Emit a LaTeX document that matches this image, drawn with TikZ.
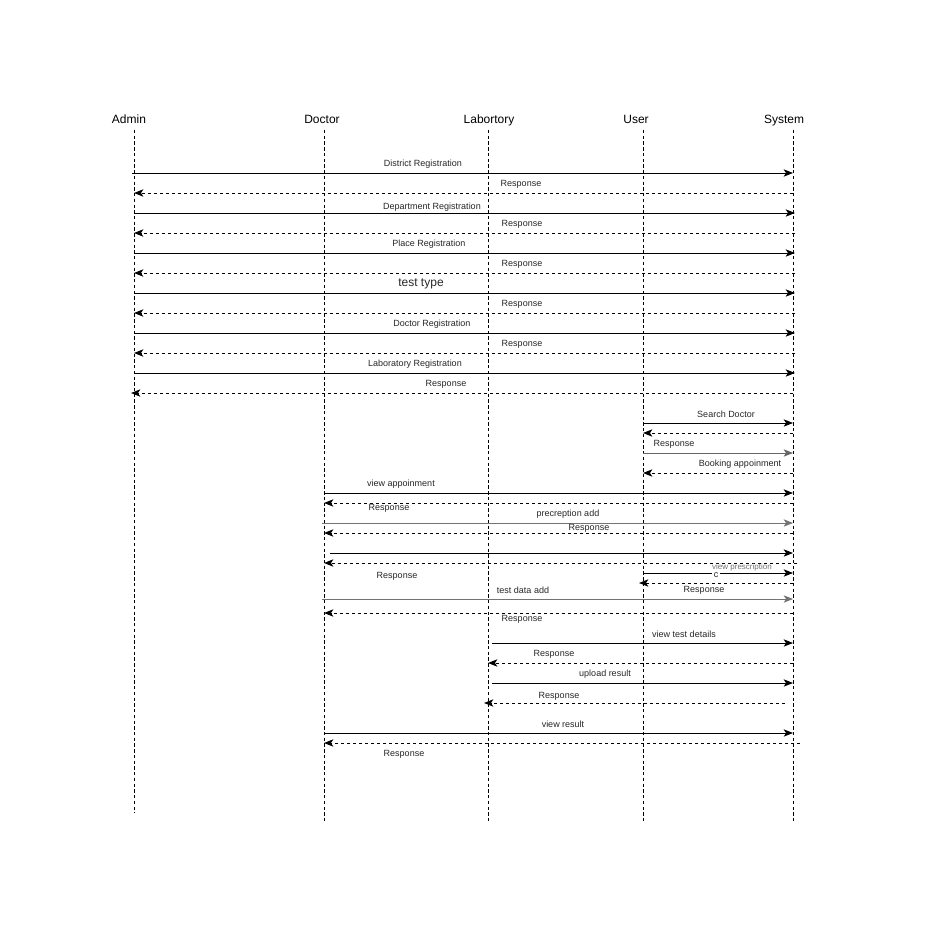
\documentclass[tikz,border=0pt]{standalone}
\usepackage{fontspec}
\setmainfont{Liberation Sans}
\usetikzlibrary{arrows.meta}
\begin{document}
\begin{tikzpicture}[x=0.75pt,y=-0.75pt]
        \tikzset{actor/.style = {font=\fontsize{9}{11}\selectfont,inner sep=0pt,anchor=base}}
        \tikzset{lifeline/.style = {dash pattern=on 2.5pt off 1.8pt,line width=0.6pt}}
        \tikzset{call/.style = {-{Stealth[length=7pt,width=5.5pt,inset=1.8pt]},line width=0.75pt}}
        \tikzset{reply/.style = {call,dash pattern=on 2.25pt off 2.25pt}}
        \tikzset{lbl/.style = {font=\fontsize{6.75}{8}\selectfont,inner sep=0pt,text=black!85,yshift=-1.2pt}}
        \useasboundingbox (0,0) rectangle (933,935);
        % actors and lifelines
        \node[actor] (admin) at  (129,123) {Admin};
        \node[actor] (doctor) at  (322,123) {Doctor};
        \node[actor] (lab) at  (489,123) {Labortory};
        \node[actor] (user) at  (636,123) {User};
        \node[actor] (system) at  (784,123) {System};
        \coordinate (admintop) at (134,130);
        \coordinate (adminend) at (134,813);
        \coordinate (doctortop) at (324,130);
        \coordinate (doctorend) at (324,823);
        \coordinate (labtop) at (488,130);
        \coordinate (labend) at (488,823);
        \coordinate (usertop) at (643,130);
        \coordinate (userend) at (643,823);
        \coordinate (systemtop) at (793,130);
        \coordinate (systemend) at (793,823);
        \draw[lifeline] (admintop) -- (adminend);
        \draw[lifeline] (doctortop) -- (doctorend);
        \draw[lifeline] (labtop) -- (labend);
        \draw[lifeline] (usertop) -- (userend);
        \draw[lifeline] (systemtop) -- (systemend);
        % admin registrations
        \coordinate (m1a) at (132,173); \coordinate (m1b) at (793,173);
        \coordinate (m2a) at (793,193); \coordinate (m2b) at (134,193);
        \coordinate (m3a) at (134,213); \coordinate (m3b) at (795,213);
        \coordinate (m4a) at (795,233); \coordinate (m4b) at (134,233);
        \coordinate (m5a) at (134,253); \coordinate (m5b) at (795,253);
        \coordinate (m6a) at (795,273); \coordinate (m6b) at (134,273);
        \coordinate (m7a) at (134,293); \coordinate (m7b) at (795,293);
        \coordinate (m8a) at (795,313); \coordinate (m8b) at (134,313);
        \coordinate (m9a) at (134,333); \coordinate (m9b) at (795,333);
        \coordinate (m10a) at (795,353); \coordinate (m10b) at (134,353);
        \coordinate (m11a) at (134,373); \coordinate (m11b) at (795,373);
        \coordinate (m12a) at (793,393); \coordinate (m12b) at (131,393);
        \draw[call] (m1a) -- (m1b);
        \draw[reply] (m2a) -- (m2b);
        \draw[call] (m3a) -- (m3b);
        \draw[reply] (m4a) -- (m4b);
        \draw[call] (m5a) -- (m5b);
        \draw[reply] (m6a) -- (m6b);
        \draw[call] (m7a) -- (m7b);
        \draw[reply] (m8a) -- (m8b);
        \draw[call] (m9a) -- (m9b);
        \draw[reply] (m10a) -- (m10b);
        \draw[call] (m11a) -- (m11b);
        \draw[reply] (m12a) -- (m12b);
        \node[lbl] (l1) at (423,163) {District Registration};
        \node[lbl] (l2) at (521,183) {Response};
        \node[lbl] (l3) at (432,206) {Department Registration};
        \node[lbl] (l4) at (522,223) {Response};
        \node[lbl] (l5) at (429,243) {Place Registration};
        \node[lbl] (l6) at (522,263) {Response};
        \node[lbl,font=\fontsize{9}{11}\selectfont] (l7) at (421,282) {test type};
        \node[lbl] (l8) at (522,303) {Response};
        \node[lbl] (l9) at (432,323) {Doctor Registration};
        \node[lbl] (l10) at (522,343) {Response};
        \node[lbl] (l11) at (415,363) {Laboratory Registration};
        \node[lbl] (l12) at (446,383) {Response};
        % user and doctor
        \coordinate (m13a) at (643,423); \coordinate (m13b) at (793,423);
        \coordinate (m14a) at (793,433); \coordinate (m14b) at (643,433);
        \coordinate (m15a) at (643,453); \coordinate (m15b) at (793,453);
        \coordinate (m16a) at (793,473); \coordinate (m16b) at (643,473);
        \coordinate (m17a) at (324,493); \coordinate (m17b) at (793,493);
        \coordinate (m18a) at (793,503); \coordinate (m18b) at (324,503);
        \coordinate (m19a) at (322,523); \coordinate (m19b) at (793,523);
        \coordinate (m20a) at (793,533); \coordinate (m20b) at (324,533);
        \coordinate (m21a) at (330,553); \coordinate (m21b) at (793,553);
        \coordinate (m22a) at (797,563); \coordinate (m22b) at (324,563);
        \coordinate (m23a) at (643,573); \coordinate (m23b) at (793,573);
        \coordinate (m24a) at (793,583); \coordinate (m24b) at (639,583);
        \coordinate (m25a) at (322,599); \coordinate (m25b) at (793,599);
        \coordinate (m26a) at (793,613); \coordinate (m26b) at (324,613);
        \draw[call] (m13a) -- (m13b);
        \draw[reply] (m14a) -- (m14b);
        \draw[call,draw=black!60] (m15a) -- (m15b);
        \draw[reply] (m16a) -- (m16b);
        \draw[call] (m17a) -- (m17b);
        \draw[reply] (m18a) -- (m18b);
        \draw[call,draw=black!55] (m19a) -- (m19b);
        \draw[reply] (m20a) -- (m20b);
        \draw[call] (m21a) -- (m21b);
        \draw[reply] (m22a) -- (m22b);
        \draw[call] (m23a) -- (m23b);
        \draw[reply] (m24a) -- (m24b);
        \draw[call,draw=black!55] (m25a) -- (m25b);
        \draw[reply] (m26a) -- (m26b);
        \node[lbl] (l13) at (726,413) {Search Doctor};
        \node[lbl] (l15) at (674,443) {Response};
        \node[lbl] (l16) at (740,463) {Booking appoinment};
        \node[lbl] (l17) at (401,483) {view appoinment};
        \node[lbl] (l18) at (389,507) {Response};
        \node[lbl] (l19) at (568,513) {precreption add};
        \node[lbl] (l20) at (589,527) {Response};
        \node[lbl] (l22) at (397,575) {Response};
        \node[lbl,font=\fontsize{6}{7}\selectfont,text=black!55] (l23) at (742,566) {view prescription};
        \node[lbl,fill=white,inner sep=1pt] (l23c) at (716,574) {c};
        \node[lbl] (l25) at (523,589) {test data add};
        \node[lbl] (l25r) at (704,589) {Response};
        \node[lbl] (l26) at (522,618) {Response};
        % laboratory results
        \coordinate (m27a) at (492,643); \coordinate (m27b) at (793,643);
        \coordinate (m28a) at (793,663); \coordinate (m28b) at (488,663);
        \coordinate (m29a) at (492,683); \coordinate (m29b) at (793,683);
        \coordinate (m30a) at (785,703); \coordinate (m30b) at (484,703);
        \coordinate (m31a) at (324,733); \coordinate (m31b) at (793,733);
        \coordinate (m32a) at (800,743); \coordinate (m32b) at (324,743);
        \draw[call] (m27a) -- (m27b);
        \draw[reply] (m28a) -- (m28b);
        \draw[call] (m29a) -- (m29b);
        \draw[reply] (m30a) -- (m30b);
        \draw[call] (m31a) -- (m31b);
        \draw[reply] (m32a) -- (m32b);
        \node[lbl] (l27) at (684,633) {view test details};
        \node[lbl] (l28) at (554,653) {Response};
        \node[lbl] (l29) at (605,673) {upload result};
        \node[lbl] (l30) at (559,695) {Response};
        \node[lbl] (l31) at (563,723) {view result};
        \node[lbl] (l32) at (404,753) {Response};
\end{tikzpicture}
\end{document}
